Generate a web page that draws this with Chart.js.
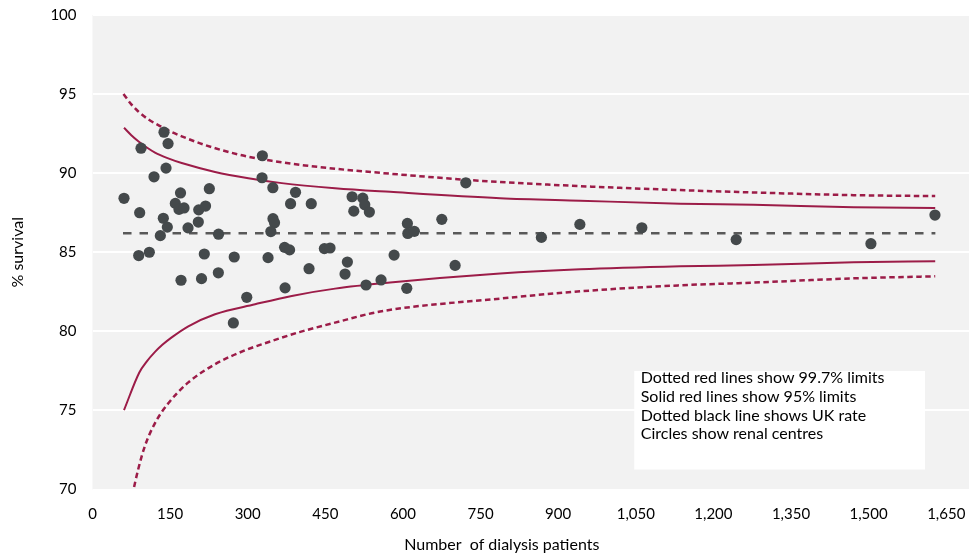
<!DOCTYPE html>
<html>
<head>
<meta charset="utf-8">
<script src="https://cdn.jsdelivr.net/npm/chart.js@4/dist/chart.umd.min.js"></script>
<style>
html,body{margin:0;padding:0;background:#ffffff;}
#wrap{width:969px;height:555px;position:relative;}
canvas{display:block;}
</style>
</head>
<body>
<div id="wrap"><canvas id="c" width="969" height="555"></canvas></div>
<script>
// ---- Data ----
const centreN = [60.9, 93.8, 91.2, 89.3, 109.8, 118.9, 138.2, 146, 142.1, 136.9, 144.6, 131.1,
  170.1, 160.1, 167.2, 176.9, 184.6, 205.3, 218.5, 225.8, 204.5, 243.6, 216.1, 273.9,
  171.1, 210.7, 243.2, 272.2, 298.1, 372.2, 418.5, 328.3, 327.7, 348.6, 348.8, 351.8,
  344.7, 339.3, 392.4, 382.8, 422.8, 371.2, 380.9, 448.1, 459.1, 501.7, 522.4, 526.2,
  505, 535.1, 721.5, 608.6, 609.4, 622.1, 675.1, 582.9, 492.6, 488.1, 700.8, 528.7,
  557.7, 607.4, 867.6, 941.9, 1061.7, 1244, 1504.4, 1628.2];
const centreSurvival = [88.41, 91.58, 87.50, 84.79, 85.00, 89.77, 92.59, 91.87, 90.32, 87.15, 86.59, 86.05,
  88.75, 88.09, 87.71, 87.80, 86.54, 87.68, 87.92, 89.02, 86.91, 86.14, 84.89, 84.70,
  83.23, 83.33, 83.70, 80.53, 82.15, 82.75, 83.96, 91.10, 89.71, 89.08, 87.12, 86.86,
  86.31, 84.66, 88.79, 88.07, 88.07, 85.31, 85.15, 85.23, 85.27, 88.51, 88.42, 88.00,
  87.60, 87.54, 89.39, 86.82, 86.19, 86.32, 87.08, 84.82, 84.38, 83.62, 84.17, 82.93,
  83.25, 82.72, 85.94, 86.76, 86.55, 85.80, 85.54, 87.35];

const upper997N = [59.9, 75, 88.5, 108, 130.5, 150, 172.4, 217.5, 281.9, 346.4, 410.8, 468.8, 555.8, 749.1, 942.5, 1135.8, 1277.5, 1470.8, 1628.7];
const upper997  = [95.00, 94.35, 93.90, 93.40, 92.98, 92.65, 92.33, 91.78, 91.18, 90.78, 90.49, 90.28, 90.02, 89.52, 89.18, 88.93, 88.78, 88.61, 88.55];

const upper95N = [60.9, 75, 88.5, 105, 120.8, 145, 172.4, 236.8, 301.2, 365.8, 468.8, 575.1, 787.8, 942.5, 1135.8, 1277.5, 1470.8, 1628.7];
const upper95  = [92.87, 92.40, 92.02, 91.62, 91.30, 90.95, 90.64, 90.08, 89.68, 89.37, 89.05, 88.82, 88.42, 88.26, 88.07, 88.00, 87.85, 87.79];

const lower95N = [60.9, 90.5, 105, 120.8, 135, 153.1, 185.2, 236.8, 314.2, 385.1, 468.8, 575.1, 787.8, 942.5, 1135.8, 1277.5, 1470.8, 1628.7];
const lower95  = [75.02, 77.40, 78.10, 78.70, 79.15, 79.62, 80.32, 81.08, 81.71, 82.24, 82.70, 83.08, 83.65, 83.92, 84.11, 84.19, 84.36, 84.43];

const lower997N = [76.5, 88.5, 101.5, 120.8, 146.5, 185.2, 236.8, 294.8, 333.5, 400, 468.8, 555.8, 787.8, 942.5, 1135.8, 1277.5, 1470.8, 1628.7];
const lower997  = [69.60, 71.30, 72.77, 74.20, 75.45, 76.77, 77.92, 78.80, 79.25, 79.95, 80.55, 81.25, 82.07, 82.53, 82.91, 83.08, 83.35, 83.48];

const ukRateN = [59, 1629];
const ukRate  = [86.2, 86.2];

const xTicks = [0, 150, 300, 450, 600, 750, 900, 1050, 1200, 1350, 1500, 1650];
const yTicks = [70, 75, 80, 85, 90, 95, 100];

const xTitle = 'Number  of dialysis patients';
const yTitle = '% survival';
const noteLines = [
  'Dotted red lines show 99.7% limits',
  'Solid red lines show 95% limits',
  'Dotted black line shows UK rate',
  'Circles show renal centres'
];

// ---- Build chart ----
const pts = (xs, ys) => xs.map((x, i) => ({x: x, y: ys[i]}));
const RED = '#9c1c48';
const FONT = 'Lato, "Open Sans", sans-serif';

const bgPlugin = {
  id: 'bg',
  beforeDraw(chart) {
    const {ctx, chartArea: a} = chart;
    ctx.save();
    ctx.fillStyle = '#f2f2f2';
    ctx.fillRect(a.left, a.top, a.right - a.left, a.bottom - a.top);
    ctx.restore();
  }
};

const notePlugin = {
  id: 'note',
  afterDraw(chart) {
    const {ctx} = chart;
    const xs = chart.scales.x, ys = chart.scales.y;
    const l = xs.getPixelForValue(1047), r = xs.getPixelForValue(1609);
    const t = ys.getPixelForValue(77.49), b = ys.getPixelForValue(71.26);
    ctx.save();
    ctx.fillStyle = '#ffffff';
    ctx.fillRect(l, t, r - l, b - t);
    ctx.fillStyle = '#000000';
    ctx.font = '16px ' + FONT;
    ctx.textBaseline = 'middle';
    ctx.textAlign = 'left';
    noteLines.forEach((s, i) => ctx.fillText(s, l + 6.5, t + 7 + i * 18.67));
    // x axis title
    ctx.font = '16px ' + FONT;
    ctx.textAlign = 'center';
    ctx.fillText(xTitle, xs.getPixelForValue(791), 544.5);
    ctx.restore();
  }
};

function build() {
  Chart.defaults.font.family = FONT;
  new Chart(document.getElementById('c'), {
    type: 'scatter',
    data: {
      datasets: [
        {
          type: 'scatter', data: pts(centreN, centreSurvival),
          backgroundColor: '#44494b', borderWidth: 0,
          pointRadius: 5.6, pointHoverRadius: 5.6, order: 0
        },
        {
          type: 'line', data: pts(ukRateN, ukRate), borderColor: '#595959',
          borderWidth: 2.5, borderDash: [8.5, 8], pointRadius: 0, fill: false, order: 1
        },
        {
          type: 'line', data: pts(upper997N, upper997), borderColor: RED,
          borderWidth: 2.5, borderDash: [5.5, 3.5], pointRadius: 0, fill: false,
          cubicInterpolationMode: 'monotone', order: 2
        },
        {
          type: 'line', data: pts(lower997N, lower997), borderColor: RED,
          borderWidth: 2.5, borderDash: [5.5, 3.5], pointRadius: 0, fill: false,
          cubicInterpolationMode: 'monotone', order: 2
        },
        {
          type: 'line', data: pts(upper95N, upper95), borderColor: RED,
          borderWidth: 2, pointRadius: 0, fill: false,
          cubicInterpolationMode: 'monotone', order: 2
        },
        {
          type: 'line', data: pts(lower95N, lower95), borderColor: RED,
          borderWidth: 2, pointRadius: 0, fill: false,
          cubicInterpolationMode: 'monotone', order: 2
        }
      ]
    },
    options: {
      responsive: false,
      animation: false,
      devicePixelRatio: 1,
      layout: {autoPadding: false, padding: {top: 15, left: 0, right: 0, bottom: 0}},
      plugins: {legend: {display: false}, tooltip: {enabled: false}},
      events: [],
      scales: {
        x: {
          type: 'linear', min: 0, max: 1694,
          afterBuildTicks: s => { s.ticks = xTicks.map(v => ({value: v})); },
          afterFit: s => { s.height = 65.5; s.paddingLeft = 0; s.paddingRight = 0; },
          grid: {display: true, drawOnChartArea: false, color: '#ffffff', tickLength: 4},
          border: {display: false},
          ticks: {
            padding: 12, color: '#000000', font: {size: 15}, maxRotation: 0, autoSkip: false,
            callback: v => Number(v).toLocaleString('en-US')
          }
        },
        y: {
          min: 70, max: 100,
          afterBuildTicks: s => { s.ticks = yTicks.map(v => ({value: v})); },
          afterFit: s => { s.width = 92.5; s.paddingTop = 0; s.paddingBottom = 0; },
          grid: {color: '#ffffff', lineWidth: 2, drawTicks: false},
          border: {display: false},
          ticks: {padding: 16, color: '#000000', font: {size: 15}},
          title: {display: true, text: yTitle, color: '#000000', font: {size: 16}, padding: {top: 8.4, bottom: 0}}
        }
      }
    },
    plugins: [bgPlugin, notePlugin]
  });
}

if (document.fonts && document.fonts.load) {
  Promise.all([document.fonts.load('15px Lato'), document.fonts.load('16px Lato')])
    .then(build, build);
} else {
  build();
}
</script>
</body>
</html>
